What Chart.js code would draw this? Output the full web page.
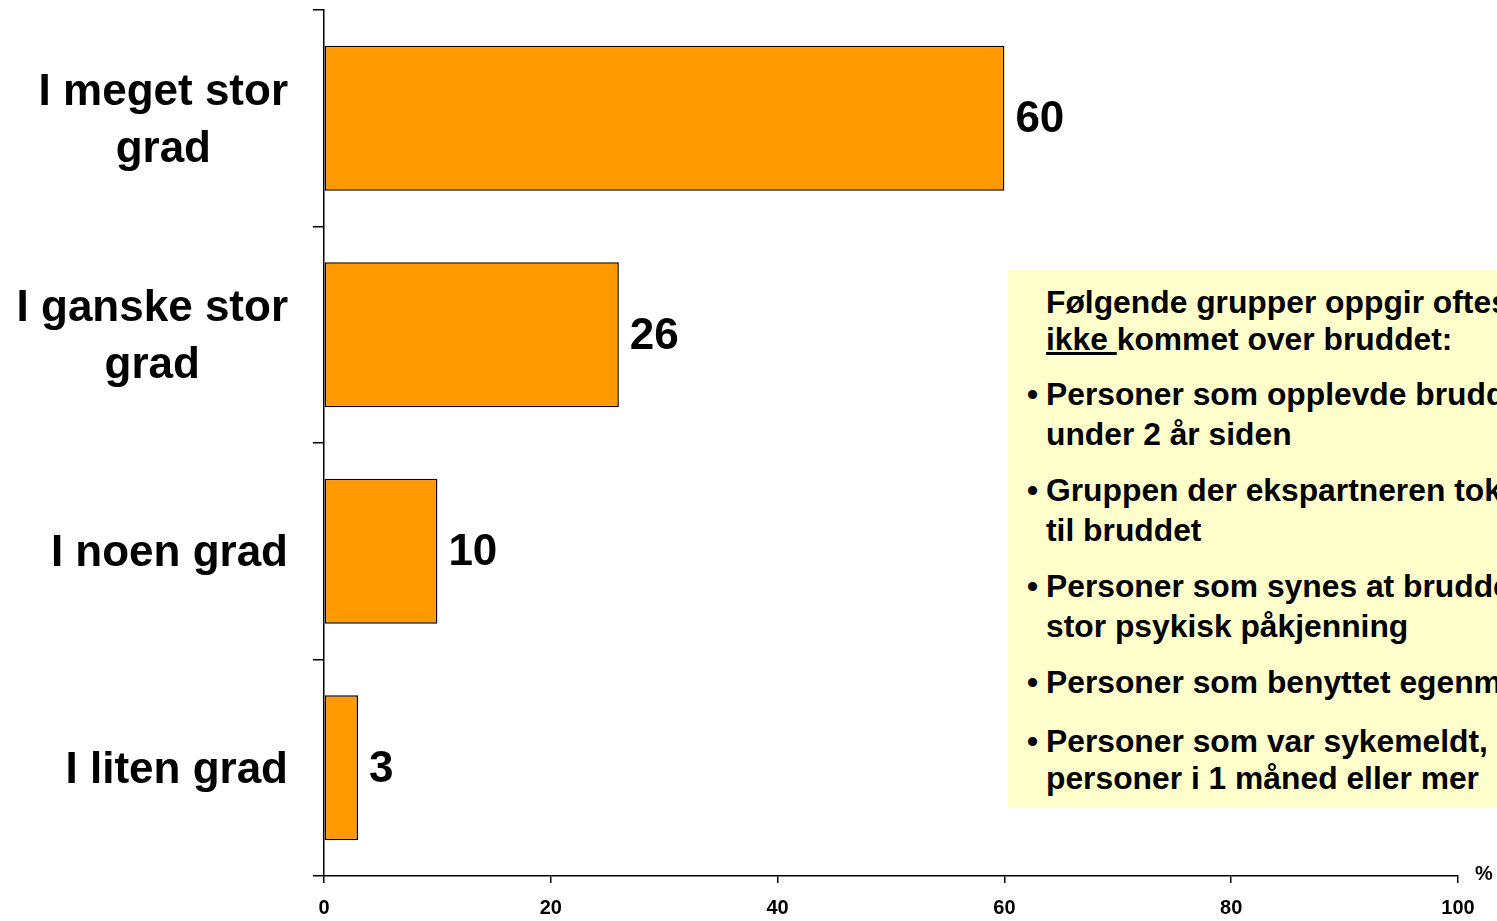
<!DOCTYPE html>
<html>
<head>
<meta charset="utf-8">
<script src="https://cdn.jsdelivr.net/npm/chart.js@4/dist/chart.umd.min.js"></script>
<style>
    html, body { margin: 0; padding: 0; background: #fff; overflow: hidden; }
    #wrap { position: relative; width: 1497px; height: 921px; overflow: hidden; }
    #chart { position: absolute; left: 0; top: 0; }
    #note {
        position: absolute; left: 1008px; top: 270px; width: 520px; height: 538px;
        background: #ffffcc; box-sizing: border-box; padding: 14px 0 0 38px;
        font: bold 31.8px "Liberation Sans", Arial, sans-serif; color: #000;
        white-space: nowrap;
    }
    #note .head { line-height: 37px; }
    #note .item { position: relative; line-height: 40px; margin-top: 16px; }
    #note .item:first-of-type { margin-top: 19px; }
    #note .item:last-of-type { line-height: 37px; margin-top: 20.5px; }
    #note .item span.b { position: absolute; left: -19px; top: 0; }
</style>
</head>
<body>
<div id="wrap">
    <canvas id="chart" width="1497" height="921"></canvas>
    <div id="note">
        <div class="head">Følgende grupper oppgir oftest at de har<br><u>ikke </u>kommet over bruddet:</div>
        <div class="item"><span class="b">•</span>Personer som opplevde bruddet for<br>under 2 år siden</div>
        <div class="item"><span class="b">•</span>Gruppen der ekspartneren tok initiativet<br>til bruddet</div>
        <div class="item"><span class="b">•</span>Personer som synes at bruddet var en<br>stor psykisk påkjenning</div>
        <div class="item"><span class="b">•</span>Personer som benyttet egenmelding</div>
        <div class="item"><span class="b">•</span>Personer som var sykemeldt, og<br>personer i 1 måned eller mer</div>
    </div>
</div>
<script>
// answers (multi-line category labels) and share in percent
const categories = [
    ['I meget stor', 'grad'],
    ['I ganske stor', 'grad'],
    ['I noen grad'],
    ['I liten grad']
];
const values = [60, 26, 10, 3];
const axisUnit = '%';

const FONT = "'Liberation Sans', Arial, sans-serif";

// category labels: lines centred on each other, right edge at fixed x
const categoryLabels = {
    id: 'categoryLabels',
    afterDraw(chart) {
        const ctx = chart.ctx;
        const y = chart.scales.y;
        ctx.save();
        ctx.font = 'bold 44px ' + FONT;
        ctx.fillStyle = '#000';
        ctx.textAlign = 'center';
        ctx.textBaseline = 'middle';
        categories.forEach((lines, i) => {
            const widest = Math.max(...lines.map(l => ctx.measureText(l).width));
            const cx = 288 - widest / 2;
            const cy = y.getPixelForValue(i) + 3;
            lines.forEach((line, j) => {
                ctx.fillText(line, cx, cy + (j - (lines.length - 1) / 2) * 57);
            });
        });
        ctx.restore();
    }
};

// value labels at the end of each bar, plus the unit sign
const valueLabels = {
    id: 'valueLabels',
    afterDatasetsDraw(chart) {
        const ctx = chart.ctx;
        const meta = chart.getDatasetMeta(0);
        ctx.save();
        ctx.font = 'bold 44px ' + FONT;
        ctx.fillStyle = '#000';
        ctx.textAlign = 'left';
        ctx.textBaseline = 'middle';
        meta.data.forEach((bar, i) => {
            ctx.fillText(String(values[i]), bar.x + 11, bar.y + 2);
        });
        const x = chart.scales.x;
        ctx.font = 'bold 20px ' + FONT;
        ctx.textAlign = 'center';
        ctx.fillText(axisUnit, x.right + 26, x.top - 2);
        ctx.restore();
    }
};

new Chart(document.getElementById('chart'), {
    type: 'bar',
    data: {
        labels: categories,
        datasets: [{
            data: values,
            backgroundColor: '#ff9900',
            borderColor: '#000',
            borderWidth: 1.5,
            borderSkipped: false,
            categoryPercentage: 1,
            barPercentage: 0.67
        }]
    },
    options: {
        indexAxis: 'y',
        responsive: false,
        animation: false,
        layout: { padding: { top: 10, right: 39, left: 0, bottom: 0 } },
        plugins: {
            legend: { display: false },
            tooltip: { enabled: false }
        },
        scales: {
            x: {
                min: 0,
                max: 100,
                ticks: {
                    stepSize: 20,
                    color: '#000',
                    padding: 13,
                    maxRotation: 0,
                    font: { family: FONT, size: 20, weight: 'bold' }
                },
                grid: {
                    drawOnChartArea: false,
                    color: '#000',
                    lineWidth: 1.5,
                    tickLength: 7
                },
                border: { display: true, color: '#000', width: 1.5 },
                afterFit: (scale) => { scale.height = 45; }
            },
            y: {
                ticks: { display: false },
                grid: {
                    offset: true,
                    drawOnChartArea: false,
                    color: '#000',
                    lineWidth: 1.5,
                    tickLength: 11
                },
                border: { display: true, color: '#000', width: 1.5 },
                afterFit: (scale) => { scale.width = 324; }
            }
        }
    },
    plugins: [categoryLabels, valueLabels]
});
</script>
</body>
</html>
